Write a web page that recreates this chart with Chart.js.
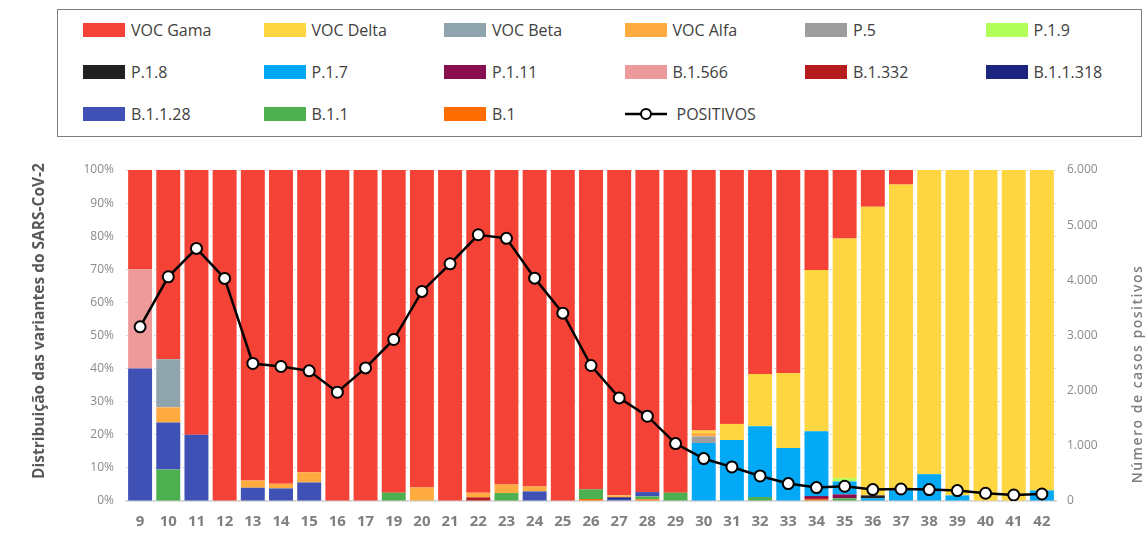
<!DOCTYPE html>
<html>
<head>
<meta charset="utf-8">
<script src="https://cdn.jsdelivr.net/npm/chart.js@4/dist/chart.umd.min.js"></script>
<style>
  body { margin: 0; background: #fff; width: 1146px; height: 534px; overflow: hidden; position: relative; font-family: "Open Sans", sans-serif; }
  #legend { position: absolute; left: 57px; top: 9px; width: 1085px; height: 128px; border: 1px solid #7f7f7f; box-sizing: border-box; }
  .item { position: absolute; display: flex; align-items: center; height: 20px; font-size: 16px; color: #404040; white-space: nowrap; }
  .sw { width: 42px; height: 14px; margin-right: 6px; flex: none; }
  .sw svg { display: block; }
  canvas { position: absolute; left: 0; top: 0; }
</style>
</head>
<body>
<div id="legend"></div>
<canvas id="c" width="1146" height="534"></canvas>
<script>
// Epidemiological weeks (week 18 has no sample)
const weeks = ['9','10','11','12','13','14','15','16','17','19','20','21','22','23','24','25','26','27','28','29','30','31','32','33','34','35','36','37','38','39','40','41','42'];

// Share of each variant per week (%)
const vocGama  = [30,57.2,80,100,93.8,94.8,91.3,100,100,97.5,95.9,100,97.5,95.0,95.6,100,96.5,98.3,97.3,97.5,78.7,76.7,61.6,61.3,30.2,20.7,11.1,4.4,0,0,0,0,0];
const vocDelta = [0,0,0,0,0,0,0,0,0,0,0,0,0,0,0,0,0,0,0,0,0.8,4.9,15.8,22.7,48.7,72.4,87.2,92.4,91.9,98.3,100,100,96.8];
const vocBeta  = [0,14.5,0,0,0,0,0,0,0,0,0,0,0,0,0,0,0,0,0,0,0,0,0,0,0,0,0,0,0,0,0,0,0];
const vocAlfa  = [0,4.6,0,0,2.2,1.4,3.1,0,0,0,4.1,0,1.4,2.6,1.5,0,0,0.6,0,0,1.0,0,0,0,0,0,0,0,0,0,0,0,0];
const p5       = [0,0,0,0,0,0,0,0,0,0,0,0,0,0,0,0,0,0,0,0,2.0,0,0,0,0,0,0,0,0,0,0,0,0];
const p19      = [0,0,0,0,0,0,0,0,0,0,0,0,0,0,0,0,0,0,0,0,0,0,0,0,0,1.0,0,0,0,0,0,0,0];
const p18      = [0,0,0,0,0,0,0,0,0,0,0,0,0,0,0,0,0,0,0,0,0,0,0,0,0,0,0.9,0,0,0,0,0,0];
const p17      = [0,0,0,0,0,0,0,0,0,0,0,0,0,0,0,0,0,0,0,0,17.5,18.4,21.4,16.0,19.6,3.9,0.8,3.2,8.1,1.7,0,0,3.2];
const p111     = [0,0,0,0,0,0,0,0,0,0,0,0,0,0,0,0,0,0,0,0,0,0,0,0,0.6,1.2,0,0,0,0,0,0,0];
const b1566    = [30,0,0,0,0,0,0,0,0,0,0,0,0,0,0,0,0,0,0,0,0,0,0,0,0,0,0,0,0,0,0,0,0];
const b1332    = [0,0,0,0,0,0,0,0,0,0,0,0,1.1,0,0,0,0,0,0,0,0,0,0,0,0.5,0,0,0,0,0,0,0,0];
const b11318   = [0,0,0,0,0,0,0,0,0,0,0,0,0,0,0,0,0,0.5,0,0,0,0,0,0,0,0,0,0,0,0,0,0,0];
const b1128    = [40,14.2,20,0,4.0,3.8,5.6,0,0,0,0,0,0,0,2.9,0,0,0.6,1.3,0,0,0,0,0,0,0,0,0,0,0,0,0,0];
const b11      = [0,9.5,0,0,0,0,0,0,0,2.5,0,0,0,2.4,0,0,2.9,0,0.9,2.5,0,0,1.2,0,0,0.8,0,0,0,0,0,0,0];
const b1       = [0,0,0,0,0,0,0,0,0,0,0,0,0,0,0,0,0.6,0,0.5,0,0,0,0,0,0.4,0,0,0,0,0,0,0,0];

// Weekly positive cases
const positivos = [3157,4064,4579,4035,2493,2438,2359,1972,2413,2928,3799,4300,4826,4761,4040,3405,2456,1869,1537,1041,769,617,454,316,243,267,207,218,207,189,140,109,127];

// Tick values
const pctTicks = [0,10,20,30,40,50,60,70,80,90,100];
const casesTicks = [0,1000,2000,3000,4000,5000,6000];

// Variants in legend order (top of stack first)
const variants = [
  { label: 'VOC Gama',  data: vocGama,  color: '#F44336' },
  { label: 'VOC Delta', data: vocDelta, color: '#FDD641' },
  { label: 'VOC Beta',  data: vocBeta,  color: '#90A4AE' },
  { label: 'VOC Alfa',  data: vocAlfa,  color: '#FFAB40' },
  { label: 'P.5',       data: p5,       color: '#9E9E9E' },
  { label: 'P.1.9',     data: p19,      color: '#B2FF59' },
  { label: 'P.1.8',     data: p18,      color: '#212121' },
  { label: 'P.1.7',     data: p17,      color: '#03A9F4' },
  { label: 'P.1.11',    data: p111,     color: '#880E4F' },
  { label: 'B.1.566',   data: b1566,    color: '#EF9A9A' },
  { label: 'B.1.332',   data: b1332,    color: '#B71C1C' },
  { label: 'B.1.1.318', data: b11318,   color: '#1A237E' },
  { label: 'B.1.1.28',  data: b1128,    color: '#3F51B5' },
  { label: 'B.1.1',     data: b11,      color: '#4CAF50' },
  { label: 'B.1',       data: b1,       color: '#FF6D00' }
];

const fmtThousands = v => String(v).replace(/\B(?=(\d{3})+(?!\d))/g, '.');

// Stacked bars are built bottom-up, so the legend order is reversed here
const barSets = variants.slice().reverse().map(v => ({
  type: 'bar',
  label: v.label,
  data: v.data,
  backgroundColor: v.color,
  borderWidth: 0,
  yAxisID: 'y',
  order: 1,
  categoryPercentage: 1,
  barPercentage: 0.85
}));

const lineSet = {
  type: 'line',
  label: 'POSITIVOS',
  data: positivos,
  yAxisID: 'y1',
  borderColor: '#000',
  borderWidth: 2.5,
  pointRadius: 5.5,
  pointBorderWidth: 2,
  pointBackgroundColor: '#fff',
  pointBorderColor: '#000',
  tension: 0,
  order: 0
};

// Rotated axis titles (both read bottom-to-top)
const axisTitles = {
  id: 'axisTitles',
  afterDraw(chart) {
    const ctx = chart.ctx;
    const draw = (text, x, y, font, color, spacing) => {
      ctx.save();
      ctx.translate(x, y);
      ctx.rotate(-Math.PI / 2);
      ctx.font = font;
      ctx.letterSpacing = spacing;
      ctx.fillStyle = color;
      ctx.textAlign = 'center';
      ctx.textBaseline = 'middle';
      ctx.fillText(text, 0, 0);
      ctx.restore();
    };
    draw('Distribuição das variantes do SARS-CoV-2', 40, 321, 'bold 15.5px "Open Sans"', '#595959', '0px');
    draw('Número de casos positivos', 1138, 374, '600 14px "Open Sans"', '#7f7f7f', '1.5px');
  }
};

const chart = new Chart(document.getElementById('c'), {
  data: { labels: weeks, datasets: [lineSet, ...barSets] },
  plugins: [axisTitles],
  options: {
    responsive: false,
    animation: false,
    layout: { padding: { top: 170, left: 0, right: 0, bottom: 0 } },
    plugins: { legend: { display: false }, tooltip: { enabled: false } },
    scales: {
      x: {
        stacked: true,
        grid: { display: false, drawTicks: false },
        border: { display: true, color: '#d4d4d4', width: 1.5 },
        ticks: { color: '#7f7f7f', font: { family: '"Open Sans"', size: 15, weight: 'bold' }, padding: 12, maxRotation: 0, autoSkip: false },
        afterFit(s) { s.height = 33; }
      },
      y: {
        stacked: true,
        min: 0, max: 100,
        afterBuildTicks(s) { s.ticks = pctTicks.map(v => ({ value: v })); },
        ticks: { color: '#8a8a8a', font: { family: '"Open Sans"', size: 12 }, padding: 12, callback: v => v + '%' },
        grid: { color: '#dcdcdc', drawTicks: false },
        border: { display: false, dash: [2, 2] },
        afterFit(s) { s.width = 126; }
      },
      y1: {
        position: 'right',
        min: 0, max: 6000,
        afterBuildTicks(s) { s.ticks = casesTicks.map(v => ({ value: v })); },
        ticks: { color: '#8a8a8a', font: { family: '"Open Sans"', size: 12 }, padding: 11, callback: v => fmtThousands(v) },
        grid: { display: false, drawTicks: false },
        border: { display: false },
        afterFit(s) { s.width = 90; }
      }
    }
  }
});

// HTML legend: 6 columns, 3 rows
const legendEl = document.getElementById('legend');
const legendItems = variants.map(v => ({ label: v.label, color: v.color })).concat([{ label: lineSet.label, line: true }]);
legendItems.forEach((it, i) => {
  const col = i % 6, row = Math.floor(i / 6);
  const el = document.createElement('div');
  el.className = 'item';
  el.style.left = (25 + col * 180.5) + 'px';
  el.style.top = (10 + row * 42) + 'px';
  const sw = document.createElement('span');
  sw.className = 'sw';
  if (it.line) {
    sw.style.marginRight = '10px';
    sw.innerHTML = '<svg width="42" height="14"><line x1="0" y1="7" x2="42" y2="7" stroke="#000" stroke-width="2.5"/><circle cx="21" cy="7" r="5" fill="#fff" stroke="#000" stroke-width="2"/></svg>';
  } else {
    sw.style.background = it.color;
  }
  const tx = document.createElement('span');
  tx.textContent = it.label;
  el.appendChild(sw);
  el.appendChild(tx);
  legendEl.appendChild(el);
});
</script>
</body>
</html>
